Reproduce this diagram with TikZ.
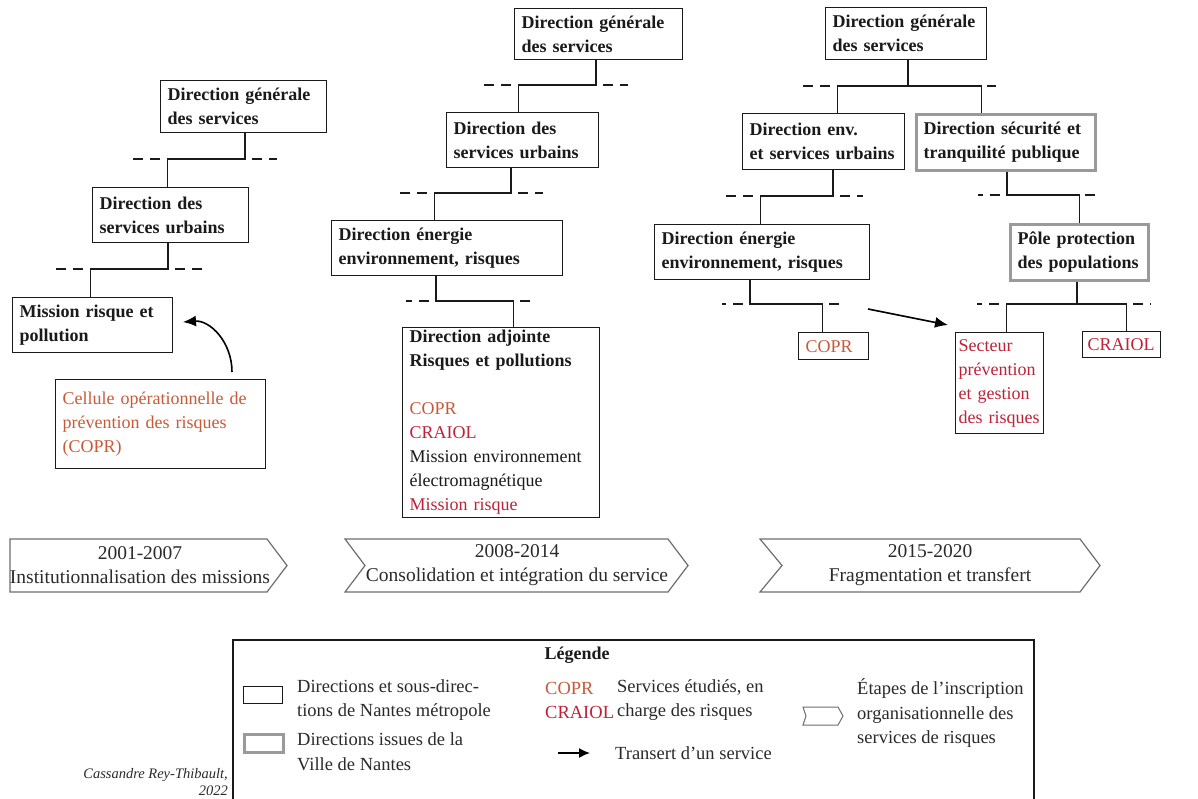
\documentclass[tikz,border=0pt]{standalone}
\usepackage{fontspec}
\setmainfont{Liberation Serif}
\usetikzlibrary{arrows.meta}
\definecolor{txt}{HTML}{1A1A1A}
\definecolor{lgc}{HTML}{2A2A2A}
\definecolor{coprc}{HTML}{C75B39}
\definecolor{craiolc}{HTML}{BE2238}
\definecolor{grayb}{HTML}{9A9A9A}
\definecolor{tlc}{HTML}{6E6E6E}
\begin{document}
\begin{tikzpicture}[x=1pt,y=-1pt,
  every node/.style={text=txt},
  bfont/.style={font=\fontsize{18}{24}\selectfont\bfseries},
  rfont/.style={font=\fontsize{18}{24}\selectfont},
  orgbox/.style={draw=txt, line width=1.3pt, inner xsep=7pt, inner ysep=0pt, anchor=north west, align=left},
  villebox/.style={orgbox, draw=grayb, line width=3pt},
  conn/.style={draw=txt, line width=1.3pt},
  dashl/.style={draw=txt, line width=1.3pt, dash pattern=on 10pt off 7pt, dash phase=10pt},
  arr/.style={draw=black, line width=1.6pt, -{Latex[length=13pt,width=11pt]}},
  tl/.style={draw=tlc, line width=1.2pt, line join=miter},
  tltext/.style={align=center, inner sep=0pt, font=\fontsize{19.5}{24}\selectfont, text=lgc},
  legtext/.style={anchor=west, align=left, inner sep=0pt, font=\fontsize{18.5}{24.5}\selectfont, text=lgc}
]
\useasboundingbox (0,0) rectangle (1198,798);
\fill[white] (0,0) rectangle (1198,798);

% ---------- 2001-2007 ----------
\node[orgbox,bfont,minimum width=166pt,minimum height=52pt,text width=152pt] (dgs1) at (160,80) {Direction générale\\des services};
\node[orgbox,bfont,minimum width=156pt,minimum height=55pt,text width=142pt] (dsu1) at (92,187) {Direction des\\services urbains};
\node[orgbox,bfont,minimum width=160pt,minimum height=55pt,text width=146pt] (mrp) at (12,297) {Mission risque et\\pollution};
\node[orgbox,rfont,text=coprc,minimum width=210pt,minimum height=89pt,text width=196pt] (copr1) at (55,379) {Cellule opérationnelle de\\prévention des risques\\(COPR)};

\coordinate (b1) at (245,159);
\coordinate (b2) at (168,269);
\draw[conn] (b1 |- dgs1.south) -- (b1) -| ([xshift=-3pt]dsu1.north);
\draw[conn] (b2 |- dsu1.south) -- (b2) -| ([xshift=-2pt]mrp.north);
\draw[dashl] (167,159) -- (129,159);
\draw[dashl] (245,159) -- (277,159);
\draw[dashl] (90,269) -- (52,269);
\draw[dashl] (168,269) -- (202,269);

\coordinate (cv1) at (232,372);
\coordinate (cv2) at (183,322);
\draw[arr] (cv1) .. controls (232,342) and (210,320) .. (cv2);

% ---------- 2008-2014 ----------
\node[orgbox,bfont,minimum width=168pt,minimum height=51pt,text width=154pt] (dgs2) at (514,8) {Direction générale\\des services};
\node[orgbox,bfont,minimum width=152pt,minimum height=55pt,text width=138pt] (dsu2) at (446,112) {Direction des\\services urbains};
\node[orgbox,bfont,minimum width=231pt,minimum height=55pt,text width=217pt] (deer2) at (331,220) {Direction énergie\\environnement, risques};
\node[orgbox,bfont,minimum width=197pt,minimum height=190pt,text width=183pt] (darp) at (402,327) {Direction adjointe\\Risques et pollutions\\[24pt]\mdseries\color{coprc}COPR\\\color{craiolc}CRAIOL\\\color{txt}Mission environnement\\électromagnétique\\\color{craiolc}Mission risque};

\coordinate (b3) at (596,85);
\coordinate (b4) at (511,193);
\coordinate (b5) at (436,301);
\draw[conn] (b3 |- dgs2.south) -- (b3) -| ([xshift=-4pt]dsu2.north);
\draw[conn] (b4 |- dsu2.south) -- (b4) -| ([xshift=-12.5pt]deer2.north);
\draw[conn] (b5 |- deer2.south) -- (b5) -| ([xshift=12.5pt]darp.north);
\draw[dashl] (518,85) -- (480,85);
\draw[dashl] (596,85) -- (628,85);
\draw[dashl] (434,193) -- (395,193);
\draw[dashl] (511,193) -- (543,193);
\draw[dashl] (436,301) -- (406,301);
\draw[dashl] (513,301) -- (533,301);

% ---------- 2015-2020 ----------
\node[orgbox,bfont,minimum width=161pt,minimum height=52pt,text width=147pt] (dgs3) at (825,7) {Direction générale\\des services};
\node[orgbox,bfont,minimum width=162pt,minimum height=56pt,text width=148pt] (desu) at (742,113) {Direction env.\\et services urbains};
\node[villebox,bfont,minimum width=179pt,minimum height=56pt,text width=165pt] (dstp) at (915,113) {Direction sécurité et\\tranquilité publique};
\node[orgbox,bfont,minimum width=215pt,minimum height=55pt,text width=201pt] (deer3) at (654,224) {Direction énergie\\environnement, risques};
\node[villebox,bfont,minimum width=138pt,minimum height=56pt,text width=124pt] (ppp) at (1009,223) {Pôle protection\\des populations};
\node[orgbox,rfont,text=coprc,minimum width=70pt,minimum height=27pt,text width=56pt] (copr3) at (798,332) {COPR};
\node[orgbox,rfont,text=craiolc,inner xsep=3pt,minimum width=88pt,minimum height=101pt,text width=82pt] (sect) at (955,332) {Secteur\\prévention\\et gestion\\des~risques};
\node[orgbox,rfont,text=craiolc,inner xsep=5pt,minimum width=78pt,minimum height=26pt,text width=68pt] (craiol) at (1082,331) {CRAIOL};

\coordinate (b6) at (908,86);
\coordinate (b7) at (833,196);
\coordinate (b8) at (1007,195);
\coordinate (b9) at (750,304);
\coordinate (b10) at (1077,304);
\draw[conn] (b6 |- dgs3.south) -- (b6);
\draw[conn] ([xshift=14pt]desu.north) |- (b6) -| ([xshift=-24.5pt]dstp.north);
\draw[conn] (b7 |- desu.south) -- (b7) -| ([xshift=-1.5pt]deer3.north);
\draw[conn] (b8 |- dstp.south) -- (b8) -| (ppp.north);
\draw[conn] (b9 |- deer3.south) -- (b9) -| ([xshift=-11pt]copr3.north);
\draw[conn] (b10 |- ppp.south) -- (b10);
\draw[conn] ([xshift=7pt]sect.north) |- (b10) -| ([xshift=5pt]craiol.north);
\draw[dashl] (837,86) -- (800,86);
\draw[dashl] (980,86) -- (996,86);
\draw[dashl] (760,196) -- (723,196);
\draw[dashl] (833,196) -- (863,196);
\draw[dashl] (1007,195) -- (978,195);
\draw[dashl] (1078,195) -- (1099,195);
\draw[dashl] (750,304) -- (722,304);
\draw[dashl] (822,304) -- (842,304);
\draw[dashl] (1006,304) -- (977,304);
\draw[dashl] (1126,304) -- (1151,304);

\coordinate (tr1) at (868,309);
\coordinate (tr2) at (948,325);
\draw[arr] (tr1) -- (tr2);

% ---------- timeline ----------
\draw[tl] (10,539) -- (267,539) -- (287,565.5) -- (267,592) -- (10,592) -- cycle;
\draw[tl] (345,539) -- (668,539) -- (688,565.5) -- (668,592) -- (345,592) -- (365,565.5) -- cycle;
\draw[tl] (760,539) -- (1080,539) -- (1100,565.5) -- (1080,592) -- (760,592) -- (782,565.5) -- cycle;
\node[tltext] (t1) at (140,565) {2001-2007\\Institutionnalisation des missions};
\node[tltext] (t2) at (517,565) {2008-2014\\Consolidation et intégration du service};
\node[tltext] (t3) at (930,565) {2015-2020\\Fragmentation et transfert};

% ---------- legend ----------
\draw[draw=txt, line width=1.3pt] (233,802) -- (233,640) -- (1034,640) -- (1034,802);
\node[font=\fontsize{18}{24}\selectfont\bfseries, inner sep=0pt] (legt) at (577,655) {Légende};
\node[draw=txt, line width=1.3pt, minimum width=39pt, minimum height=17pt, inner sep=0pt, anchor=north west] (lr1) at (243,686) {};
\node[draw=grayb, line width=2.8pt, minimum width=39pt, minimum height=18pt, inner sep=0pt, anchor=north west] (lr2) at (243,733) {};
\node[legtext] (lt1) at (297,700) {Directions et sous-direc-\\tions de Nantes métropole};
\node[legtext] (lt2) at (297,751.5) {Directions issues de la\\Ville de Nantes};
\node[legtext, text=coprc] (lc1) at (545,688) {COPR};
\node[legtext, text=craiolc] (lc2) at (545,712) {CRAIOL};
\node[legtext] (ls) at (617,700) {Services étudiés, en\\charge des risques};
\coordinate (la1) at (558,753);
\coordinate (la2) at (590,753);
\draw[arr, line width=1.5pt, -{Latex[length=11pt,width=10pt]}] (la1) -- (la2);
\node[legtext] (ltr) at (615,753) {Transert d’un service};
\draw[tl, line width=1pt] (803,707) -- (838,707) -- (843,716) -- (838,725) -- (803,725) -- (806,716) -- cycle;
\node[legtext] (le) at (857,713.5) {Étapes de l’inscription\\organisationnelle des\\services de risques};

\node[anchor=north east, align=right, inner sep=0pt, text=lgc, font=\fontsize{14.5}{17}\selectfont\itshape] (auth) at (228,768) {Cassandre Rey-Thibault,\\2022};
\end{tikzpicture}
\end{document}
